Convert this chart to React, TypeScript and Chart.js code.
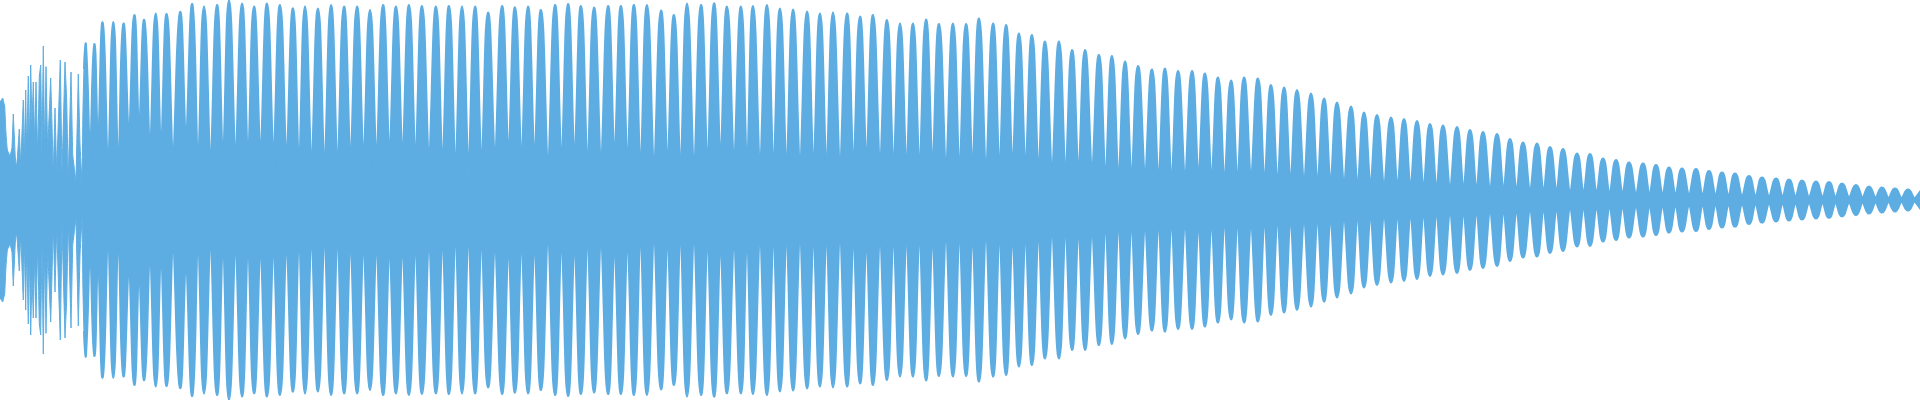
import React, { useEffect, useRef } from "react";
import { Chart, registerables } from "chart.js";

Chart.register(...registerables);

// Irregular onset section (frame index, amplitude)
const onsetX = [
  0, 2.7, 4.7, 6, 7.3, 10, 12, 13.3, 15.3, 16.7, 19.3, 20.7, 23.3, 24.3, 25.7, 26.7,
  28.3, 29.3, 30.7, 32, 33.3, 34.7, 36, 37.7, 39.3, 40.7, 42, 43.3, 44.7, 46, 47.7,
  50.7, 52, 53.3, 55, 56.7, 60.3, 62, 65, 66.7, 68.3, 71, 72.7, 76, 78.3, 80, 82, 84,
  86, 90, 94.3, 98, 102.7, 108, 113.3, 118.3, 123.3, 129, 134.3, 139, 144.3, 150,
  155.7, 161, 166.7, 173, 180, 186, 192.3, 198,
];
const onsetAmp = [
  0.49, 0.51, 0.47, 0.33, 0.25, 0.22, 0.26, 0.43, 0.21, 0.16, 0.355, 0.17, 0.5, 0.2, 0.55, 0.23,
  0.62, 0.25, 0.675, 0.38, 0.59, 0.28, 0.59, 0.22, 0.62, 0.675, 0.23, 0.77, 0.225, 0.667, 0.25,
  0.61, 0.38, 0.13, 0.46, 0.14, 0.7, 0.13, 0.69, 0.5, 0.1, 0.64, 0.225, 0.09, 0.63, 0.275, 0.083, 0.66,
  0.775, 0.16, 0.78, 0.2, 0.887, 0.075, 0.89, 0.075, 0.88, 0.25, 0.925, 0.28, 0.9, 0.18,
  0.933, 0.18, 0.93, 0.13, 0.94, 0.23, 0.98, 0.1,
];

// Regular lobes: peak frame index and peak amplitude
const lobeX = [
  204, 217, 229, 242, 254, 267, 280, 293, 305, 318, 331, 344, 357, 370, 383, 396, 409, 422,
  436, 449, 462, 475, 488, 502, 515, 528, 541, 555, 568, 581, 594, 608, 621, 634, 647, 661,
  674, 687, 701, 714, 727, 741, 753, 767, 780, 793, 807, 820, 833, 847, 860, 873, 887, 900,
  913, 926, 939, 953, 966, 979, 993, 1006, 1019, 1032, 1045, 1059, 1072, 1085, 1099, 1112,
  1125, 1138, 1152, 1165, 1178, 1192, 1205, 1218, 1231, 1244, 1258, 1271, 1284, 1297, 1311,
  1324, 1337, 1351, 1364, 1377, 1391, 1404, 1417, 1430, 1443, 1457, 1470, 1483, 1497, 1510,
  1523, 1537, 1550, 1563, 1577, 1590, 1603, 1616, 1629, 1643, 1656, 1669, 1682, 1696, 1709,
  1722, 1735, 1749, 1762, 1776, 1789, 1802, 1816, 1829, 1842, 1856, 1869, 1882, 1895, 1908, 1921,
];
const lobeAmp = [
  0.967, 0.975, 1.0, 0.983, 0.967, 0.983, 0.975, 0.958, 0.967, 0.958, 0.975, 0.967, 0.967, 0.95,
  0.975, 0.967, 0.975, 0.97, 0.967, 0.97, 0.967, 0.967, 0.937, 0.97, 0.963, 0.967, 0.95, 0.975,
  0.98, 0.97, 0.963, 0.97, 0.97, 0.975, 0.975, 0.947, 0.925, 0.983, 0.975, 0.983, 0.967, 0.967,
  0.97, 0.975, 0.958, 0.953, 0.942, 0.933, 0.937, 0.933, 0.917, 0.925, 0.9, 0.883, 0.883, 0.903,
  0.88, 0.883, 0.88, 0.908, 0.883, 0.875, 0.833, 0.825, 0.792, 0.792, 0.75, 0.75, 0.725, 0.72,
  0.692, 0.67, 0.653, 0.658, 0.645, 0.645, 0.633, 0.613, 0.597, 0.613, 0.608, 0.575, 0.563, 0.55,
  0.533, 0.508, 0.488, 0.467, 0.437, 0.425, 0.412, 0.405, 0.395, 0.38, 0.373, 0.365, 0.35, 0.34,
  0.33, 0.305, 0.288, 0.283, 0.265, 0.255, 0.233, 0.23, 0.208, 0.2, 0.188, 0.183, 0.175, 0.163,
  0.158, 0.155, 0.145, 0.138, 0.133, 0.12, 0.113, 0.108, 0.103, 0.098, 0.092, 0.09, 0.082, 0.075,
  0.068, 0.063, 0.057, 0.053, 0.048,
];
// Amplitude of the narrow band between consecutive lobes
const gapAmp = [
  0.1, 0.125, 0.125, 0.13, 0.15, 0.14, 0.125, 0.09, 0.09, 0.085, 0.09, 0.12, 0.13, 0.13, 0.15,
  0.14, 0.13, 0.12, 0.1, 0.08, 0.08, 0.1, 0.13, 0.15, 0.12, 0.13, 0.08, 0.11, 0.13, 0.09, 0.1,
  0.14, 0.11, 0.08, 0.075, 0.1, 0.075, 0.075, 0.1, 0.13, 0.11, 0.09, 0.085, 0.08, 0.075, 0.08,
  0.085, 0.08, 0.08, 0.1, 0.12, 0.1, 0.09, 0.09, 0.085, 0.1, 0.08, 0.075, 0.09, 0.07, 0.085,
  0.1, 0.095, 0.08, 0.07, 0.065, 0.075, 0.08, 0.05, 0.045, 0.05, 0.06, 0.045, 0.04, 0.05, 0.06,
  0.05, 0.04, 0.045, 0.055, 0.04, 0.035, 0.04, 0.04, 0.035, 0.04, 0.035, 0.03, 0.035, 0.03,
  0.03, 0.028, 0.025, 0.022, 0.02, 0.022, 0.02, 0.018, 0.02, 0.018, 0.016, 0.015, 0.016, 0.012,
  0.012, 0.012, 0.01, 0.012, 0.01, 0.01, 0.01, 0.009, 0.009, 0.008, 0.008, 0.007, 0.007, 0.006,
  0.006, 0.006, 0.006, 0.005, 0.005, 0.005, 0.005, 0.005, 0.005, 0.004, 0.004, 0.004, 0.004,
];

const WAVE_COLOR = "#5DADE2";
const ONSET_END = 84; // frames before this are thin single spikes

function buildEnvelope() {
  const pts: { x: number; y: number }[] = [];
  onsetX.forEach((x, i) => pts.push({ x, y: onsetAmp[i] }));
  lobeX.forEach((x, i) => {
    pts.push({ x, y: lobeAmp[i] });
    if (i < lobeX.length - 1) {
      pts.push({ x: (x + lobeX[i + 1]) / 2, y: gapAmp[i] ?? 0.004 });
    }
  });
  // doubled points make sharp corners: straight spikes in the onset, cusps at lobe gaps
  const out: { x: number; y: number }[] = [];
  pts.forEach((p, i) => {
    out.push(p);
    const prev = pts[i - 1];
    const next = pts[i + 1];
    const isMin = prev && next && p.y < prev.y && p.y < next.y;
    if (p.x < ONSET_END || isMin) out.push({ x: p.x, y: p.y });
  });
  return out;
}

export default function App() {
  const ref = useRef<HTMLCanvasElement | null>(null);
  useEffect(() => {
    if (!ref.current) return;
    const env = buildEnvelope();
    const common = {
      borderColor: WAVE_COLOR,
      backgroundColor: WAVE_COLOR,
      borderWidth: 2,
      borderJoinStyle: "round" as const,
      borderCapStyle: "round" as const,
      pointRadius: 0,
      tension: 0.5,
      fill: "origin" as const,
      segment: {
        borderWidth: (ctx: any) => (ctx.p1.parsed.x <= ONSET_END ? 1 : 2),
      },
    };
    const chart = new Chart(ref.current, {
      type: "line",
      data: {
        datasets: [
          { ...common, data: env.map((p) => ({ x: p.x, y: p.y })) },
          { ...common, data: env.map((p) => ({ x: p.x, y: -p.y })) },
        ],
      },
      options: {
        animation: false,
        responsive: false,
        devicePixelRatio: 1,
        layout: { padding: 0 },
        plugins: { legend: { display: false }, tooltip: { enabled: false } },
        scales: {
          x: { type: "linear", min: 0, max: 1920, display: false },
          y: { type: "linear", min: -1, max: 1, display: false },
        },
      },
    });
    return () => chart.destroy();
  }, []);
  return (
    <div style={{ position: "absolute", left: 0, top: 0, width: 1920, height: 400, background: "#fff" }}>
      <canvas ref={ref} width={1920} height={400} />
    </div>
  );
}
